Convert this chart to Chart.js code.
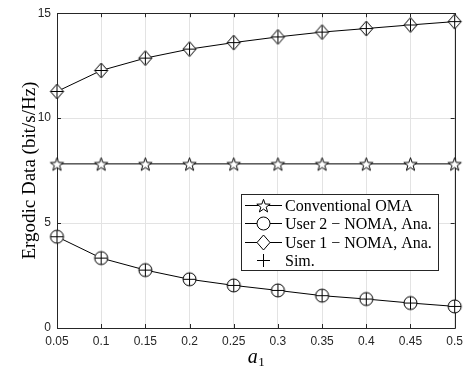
<!DOCTYPE html>
<html>
<head>
<meta charset="utf-8">
<script src="https://cdn.jsdelivr.net/npm/chart.js@4/dist/chart.umd.min.js"></script>
<style>
  html, body { margin: 0; padding: 0; background: #fff; }
  #chart { display: block; }
</style>
</head>
<body>
<canvas id="chart" width="469" height="371"></canvas>
<script>
// values
const aLabels = ['0.05', '0.1', '0.15', '0.2', '0.25', '0.3', '0.35', '0.4', '0.45', '0.5'];
const omaRate = [7.82, 7.82, 7.82, 7.82, 7.82, 7.82, 7.82, 7.82, 7.82, 7.82];
const user2Ana = [4.35, 3.33, 2.76, 2.32, 2.03, 1.79, 1.54, 1.38, 1.19, 1.03];
const user1Ana = [11.27, 12.27, 12.86, 13.29, 13.60, 13.87, 14.10, 14.27, 14.44, 14.60];
const user2Sim = [4.35, 3.33, 2.76, 2.32, 2.03, 1.79, 1.54, 1.38, 1.19, 1.03];
const user1Sim = [11.27, 12.27, 12.86, 13.29, 13.60, 13.87, 14.10, 14.27, 14.44, 14.60];
const yTicks = [0, 5, 10, 15];
const legendNames = ['Conventional OMA', 'User 2 \u2212 NOMA, Ana.', 'User 1 \u2212 NOMA, Ana.', 'Sim.'];

const axisColor = '#262626';
const gridColor = '#e3e3e3';

// marker images (MATLAB-like open markers)
function makeMarker(kind) {
    const s = 17;
    const c = document.createElement('canvas');
    c.width = s; c.height = s;
    const g = c.getContext('2d');
    g.translate(8.5, 8.5);
    g.lineWidth = 1;
    g.strokeStyle = '#000';
    g.fillStyle = '#fff';
    g.beginPath();
    if (kind === 'star') {
        for (let i = 0; i < 10; i++) {
            const r = i % 2 ? 2.8 : 7;
            const ang = -Math.PI / 2 + i * Math.PI / 5;
            const px = r * Math.cos(ang), py = r * Math.sin(ang) + 0.8;
            if (i === 0) g.moveTo(px, py); else g.lineTo(px, py);
        }
        g.closePath();
        g.fill(); g.stroke();
    } else if (kind === 'circle') {
        g.arc(0, 0, 6.5, 0, Math.PI * 2);
        g.fill(); g.stroke();
    } else if (kind === 'diamond') {
        g.moveTo(0, -7.5); g.lineTo(6.5, 0); g.lineTo(0, 7.5); g.lineTo(-6.5, 0);
        g.closePath();
        g.fill(); g.stroke();
    } else {
        g.moveTo(-6.5, 0); g.lineTo(6.5, 0);
        g.moveTo(0, -6.5); g.lineTo(0, 6.5);
        g.stroke();
    }
    return c;
}
const markers = {
    star: makeMarker('star'),
    circle: makeMarker('circle'),
    diamond: makeMarker('diamond'),
    plus: makeMarker('plus')
};

// axes box, inward ticks, axis titles and legend
const matlabLook = {
    id: 'matlabLook',
    beforeDatasetsDraw(chart) {
        const { ctx, chartArea: a, scales } = chart;
        ctx.save();
        ctx.strokeStyle = axisColor;
        ctx.lineWidth = 1;
        ctx.beginPath();
        ctx.rect(Math.round(a.left) + 0.5, Math.round(a.top) + 0.5,
                 Math.round(a.right - a.left), Math.round(a.bottom - a.top));
        aLabels.forEach((l, i) => {
            const x = Math.round(scales.x.getPixelForValue(i)) + 0.5;
            ctx.moveTo(x, a.bottom); ctx.lineTo(x, a.bottom - 4);
            ctx.moveTo(x, a.top); ctx.lineTo(x, a.top + 4);
        });
        yTicks.forEach(v => {
            const y = Math.round(scales.y.getPixelForValue(v)) + 0.5;
            ctx.moveTo(a.left, y); ctx.lineTo(a.left + 4, y);
            ctx.moveTo(a.right, y); ctx.lineTo(a.right - 4, y);
        });
        ctx.stroke();
        ctx.restore();
    },
    afterDraw(chart) {
        const { ctx, chartArea: a } = chart;
        ctx.save();
        ctx.fillStyle = '#000';
        // y title
        ctx.save();
        ctx.translate(30, (a.top + a.bottom) / 2);
        ctx.rotate(-Math.PI / 2);
        ctx.font = '19px "Liberation Serif"';
        ctx.textAlign = 'center';
        ctx.textBaseline = 'middle';
        ctx.fillText('Ergodic Data (bit/s/Hz)', 0, 0);
        ctx.restore();
        // x title a_1
        const cx = (a.left + a.right) / 2;
        ctx.font = 'italic 20px "Liberation Serif"';
        ctx.textBaseline = 'alphabetic';
        ctx.textAlign = 'left';
        const aw = ctx.measureText('a').width;
        ctx.fillText('a', cx - 8, 363);
        ctx.font = '13px "Liberation Serif"';
        ctx.fillText('1', cx - 8 + aw + 0.5, 366);

        // legend
        const bx = 241.5, by = 194.5, bw = 197, bh = 76;
        ctx.fillStyle = '#fff';
        ctx.fillRect(bx, by, bw, bh);
        ctx.strokeStyle = axisColor;
        ctx.lineWidth = 1;
        ctx.strokeRect(bx, by, bw, bh);
        const rows = [205, 223, 241.5, 260];
        const icons = [markers.star, markers.circle, markers.diamond, markers.plus];
        ctx.font = '16px "Liberation Serif"';
        ctx.textBaseline = 'middle';
        rows.forEach((ry, i) => {
            const yy = Math.round(ry) + 0.5;
            if (i < 3) {
                ctx.strokeStyle = '#000';
                ctx.beginPath();
                ctx.moveTo(245, yy); ctx.lineTo(282, yy);
                ctx.stroke();
            }
            const img = icons[i];
            ctx.drawImage(img, 263.5 - img.width / 2, yy - img.height / 2);
            ctx.fillStyle = '#000';
            ctx.fillText(legendNames[i], 285, yy + 1);
        });
        ctx.restore();
    }
};

const tickFont = { family: '"Liberation Sans", Arial, sans-serif', size: 12 };

new Chart(document.getElementById('chart'), {
    type: 'line',
    data: {
        labels: aLabels,
        datasets: [
            { label: 'Sim. (User 1)', data: user1Sim, showLine: false, pointStyle: markers.plus, pointRadius: 6, order: 0, clip: false },
            { label: 'Sim. (User 2)', data: user2Sim, showLine: false, pointStyle: markers.plus, pointRadius: 6, order: 0, clip: false },
            { label: legendNames[0], data: omaRate, borderColor: '#000', borderWidth: 1, pointStyle: markers.star, pointRadius: 6, order: 1, clip: false },
            { label: legendNames[1], data: user2Ana, borderColor: '#000', borderWidth: 1, pointStyle: markers.circle, pointRadius: 6, order: 1, clip: false },
            { label: legendNames[2], data: user1Ana, borderColor: '#000', borderWidth: 1, pointStyle: markers.diamond, pointRadius: 6, order: 1, clip: false }
        ]
    },
    options: {
        responsive: false,
        animation: false,
        layout: { padding: { top: 13, right: 11, left: 0, bottom: 0 } },
        plugins: {
            legend: { display: false },
            tooltip: { enabled: false }
        },
        scales: {
            x: {
                type: 'category',
                offset: false,
                grid: { color: gridColor, drawTicks: false },
                border: { display: false },
                ticks: { font: tickFont, color: axisColor, padding: 6, maxRotation: 0, autoSkip: false },
                afterFit(scale) { scale.height = 43; }
            },
            y: {
                min: 0,
                max: 15,
                grid: { color: gridColor, drawTicks: false },
                border: { display: false },
                ticks: { font: tickFont, color: axisColor, padding: 6, stepSize: 5 },
                afterFit(scale) { scale.width = 57; }
            }
        }
    },
    plugins: [matlabLook]
});
</script>
</body>
</html>
